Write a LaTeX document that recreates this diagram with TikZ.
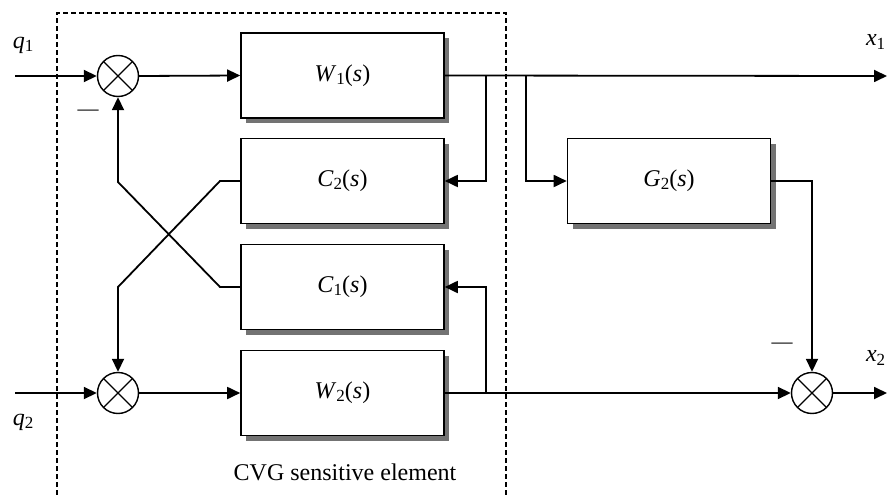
\documentclass[tikz,border=0pt]{standalone}
\usepackage{fontspec}
\setmainfont{Liberation Serif}
\usetikzlibrary{arrows.meta,shadows}
\newcommand{\lowsub}[1]{\raisebox{-0.28ex}{\fontsize{17}{17}\selectfont #1}}
\begin{document}
\begin{tikzpicture}[x=1pt,y=-1pt,
  font=\fontsize{24}{28}\selectfont,
  line width=1.7pt,
  blockbox/.style={draw, fill=white, minimum width=203pt, minimum height=85pt, inner sep=0pt, line width=1.6pt,
     drop shadow={shadow xshift=5pt, shadow yshift=-5pt, fill=gray!90!black, opacity=1}},
  sumnode/.style={draw, circle, minimum size=41pt, inner sep=0pt, line width=1.4pt,
     path picture={\draw[line width=1.4pt] (path picture bounding box.north west) -- (path picture bounding box.south east)
       (path picture bounding box.north east) -- (path picture bounding box.south west);}},
  arr/.style={-{Triangle[length=13pt,width=12pt]}},
  conn/.style={line width=1.8pt}
]
\useasboundingbox (0,0) rectangle (887,495);
% dashed frame
\draw[line width=1.3pt, dash pattern=on 5pt off 3pt] (57,495) -- (57,13) -- (506,13) -- (506,495);

% blocks
\node[blockbox] (W1) at (342.5,75.5) {\textit{W}\lowsub{1}(\textit{s})};
\node[blockbox] (C2) at (342.5,181) {\textit{C}\lowsub{2}(\textit{s})};
\node[blockbox] (C1) at (342.5,287) {\textit{C}\lowsub{1}(\textit{s})};
\node[blockbox] (W2) at (342.5,393) {\textit{W}\lowsub{2}(\textit{s})};
\node[blockbox] (G2) at (669,181) {\textit{G}\lowsub{2}(\textit{s})};

% summing junctions
\node[sumnode] (S1) at (118,76) {};
\node[sumnode] (S2) at (118,393) {};
\node[sumnode] (S3) at (812,393) {};

% coordinates
\coordinate (qin1) at (15,76);
\coordinate (qin2) at (15,393);
\coordinate (xout1) at (887,76);
\coordinate (xout2) at (887,393);
\coordinate (b1) at (486,76);
\coordinate (b2) at (526,76);
\coordinate (b3) at (486,393);
\coordinate (k1) at (220,181);
\coordinate (k2) at (118,287);
\coordinate (k3) at (220,287);
\coordinate (k4) at (118,182);

% connectors
\draw[conn,arr] (qin1) -- (S1.west);
\draw[conn,arr] (qin2) -- (S2.west);
\draw[conn,arr] (S1.east) -- (W1.west);
\draw[conn,arr] (S2.east) -- (W2.west);
\draw[conn,arr] (W1.east) -- (xout1);
\draw[conn,arr] (b1) |- (C2.east);
\draw[conn,arr] (b2) |- (G2.west);
\draw[conn,arr] (G2.east) -| (S3.north);
\draw[conn,arr] (W2.east) -- (S3.west);
\draw[conn,arr] (b3) |- (C1.east);
\draw[conn,arr] (S3.east) -- (xout2);
\draw[conn,arr] (C2.west) -- (k1) -- (k2) -- (S2.north);
\draw[conn,arr] (C1.west) -- (k3) -- (k4) -- (S1.south);

% labels
\node (q1) at (23,45) {\textit{q}\lowsub{1}};
\node (q2) at (23,422) {\textit{q}\lowsub{2}};
\node[anchor=east, inner sep=1pt] (x1) at (887,42) {\textit{x}\lowsub{1}};
\node[anchor=east, inner sep=1pt] (x2) at (887,358) {\textit{x}\lowsub{2}};
\node[font=\fontsize{21}{21}\selectfont] (m1) at (88,113) {—};
\node[font=\fontsize{21}{21}\selectfont] (m2) at (782,346) {—};
\node (cvg) at (345,472) {CVG sensitive element};
\end{tikzpicture}
\end{document}
